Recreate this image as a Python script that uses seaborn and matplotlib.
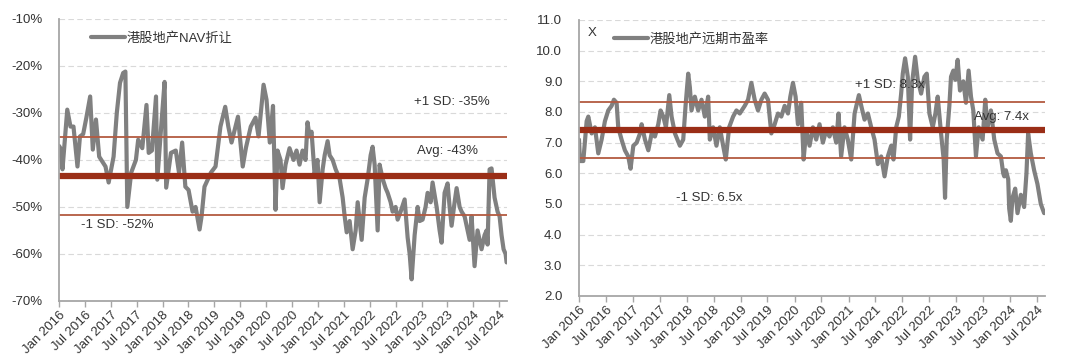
import pandas as pd
import matplotlib
matplotlib.use("Agg")
import matplotlib.pyplot as plt
import seaborn as sns

# time axis is in decimal years
nav_t = [2016.000, 2016.023, 2016.068, 2016.160, 2016.222, 2016.280, 2016.357, 2016.405, 2016.467, 2016.529,
         2016.602, 2016.653, 2016.714, 2016.776, 2016.898, 2016.959, 2017.052, 2017.114, 2017.176, 2017.237,
         2017.280, 2017.317, 2017.392, 2017.483, 2017.527, 2017.606, 2017.687, 2017.730, 2017.792, 2017.871,
         2017.896, 2017.977, 2018.037, 2018.068, 2018.160, 2018.253, 2018.315, 2018.376, 2018.438, 2018.500,
         2018.577, 2018.635, 2018.712, 2018.751, 2018.807, 2018.931, 2019.021, 2019.116, 2019.208, 2019.268,
         2019.330, 2019.454, 2019.546, 2019.608, 2019.701, 2019.793, 2019.851, 2019.948, 2020.006, 2020.069,
         2020.131, 2020.180, 2020.218, 2020.276, 2020.315, 2020.373, 2020.450, 2020.527, 2020.585, 2020.643,
         2020.701, 2020.759, 2020.797, 2020.836, 2020.875, 2020.933, 2020.990, 2021.029, 2021.087, 2021.126,
         2021.183, 2021.222, 2021.280, 2021.338, 2021.415, 2021.473, 2021.512, 2021.551, 2021.608, 2021.666,
         2021.724, 2021.763, 2021.801, 2021.840, 2021.898, 2021.956, 2022.014, 2022.052, 2022.091, 2022.149,
         2022.187, 2022.245, 2022.303, 2022.342, 2022.400, 2022.438, 2022.496, 2022.535, 2022.593, 2022.670,
         2022.728, 2022.767, 2022.805, 2022.863, 2022.921, 2022.959, 2023.017, 2023.075, 2023.114, 2023.172,
         2023.210, 2023.288, 2023.346, 2023.384, 2023.442, 2023.500, 2023.539, 2023.577, 2023.635, 2023.674,
         2023.732, 2023.770, 2023.828, 2023.867, 2023.925, 2023.963, 2024.021, 2024.079, 2024.118, 2024.156,
         2024.214, 2024.253, 2024.272, 2024.311, 2024.349, 2024.388, 2024.407, 2024.465, 2024.504, 2024.542,
         2024.581, 2024.620, 2024.639]
nav_v = [-37.0, -37.4, -42.0, -29.3, -32.9, -32.9, -41.4, -35.0, -34.5, -31.0,
         -26.5, -37.8, -31.4, -39.3, -41.4, -44.8, -39.3, -30.0, -23.6, -21.5,
         -21.2, -50.0, -42.7, -40.0, -35.7, -37.5, -28.3, -38.5, -38.0, -26.5,
         -44.2, -32.0, -23.4, -45.9, -38.5, -38.0, -42.7, -36.3, -45.7, -46.4,
         -51.0, -50.0, -54.8, -52.0, -45.7, -42.7, -41.4, -32.9, -28.7, -32.9,
         -36.3, -30.8, -41.4, -37.4, -32.9, -31.0, -35.0, -24.0, -27.2, -36.3,
         -28.5, -50.6, -38.0, -40.0, -46.0, -41.0, -37.5, -40.0, -38.0, -41.0,
         -38.0, -40.0, -32.0, -35.0, -34.0, -43.0, -40.0, -49.0, -42.0, -39.0,
         -36.0, -39.0, -40.0, -42.0, -44.0, -48.0, -52.0, -55.4, -53.0, -59.0,
         -55.0, -49.0, -53.0, -57.0, -48.0, -44.0, -39.0, -37.2, -41.0, -55.0,
         -41.0, -44.0, -46.0, -47.0, -49.0, -51.0, -50.0, -52.7, -51.0, -48.4,
         -56.5, -60.0, -65.4, -56.0, -50.0, -53.0, -52.7, -50.0, -47.0, -49.0,
         -44.8, -50.0, -55.0, -57.6, -47.0, -45.0, -50.0, -54.0, -49.0, -46.0,
         -50.0, -51.0, -52.0, -54.0, -57.0, -52.0, -62.6, -55.0, -57.0, -59.0,
         -56.0, -55.0, -58.0, -42.0, -41.8, -46.0, -48.0, -51.0, -52.0, -56.0,
         -59.0, -60.0, -61.8]

pe_t = [2016.000, 2016.019, 2016.080, 2016.142, 2016.173, 2016.235, 2016.296, 2016.358, 2016.420, 2016.481,
        2016.543, 2016.605, 2016.648, 2016.698, 2016.728, 2016.790, 2016.852, 2016.914, 2016.957, 2017.006,
        2017.068, 2017.130, 2017.160, 2017.222, 2017.284, 2017.346, 2017.407, 2017.469, 2017.512, 2017.562,
        2017.611, 2017.673, 2017.716, 2017.778, 2017.870, 2017.932, 2017.975, 2018.025, 2018.056, 2018.086,
        2018.148, 2018.210, 2018.272, 2018.333, 2018.395, 2018.426, 2018.488, 2018.549, 2018.611, 2018.673,
        2018.722, 2018.784, 2018.858, 2018.920, 2018.981, 2019.074, 2019.136, 2019.198, 2019.259, 2019.321,
        2019.383, 2019.444, 2019.506, 2019.568, 2019.630, 2019.691, 2019.753, 2019.815, 2019.877, 2019.920,
        2019.969, 2020.019, 2020.062, 2020.123, 2020.167, 2020.216, 2020.278, 2020.340, 2020.401, 2020.463,
        2020.525, 2020.586, 2020.648, 2020.710, 2020.772, 2020.815, 2020.864, 2020.926, 2020.988, 2021.049,
        2021.111, 2021.191, 2021.235, 2021.296, 2021.358, 2021.420, 2021.481, 2021.543, 2021.605, 2021.667,
        2021.728, 2021.790, 2021.833, 2021.883, 2021.932, 2021.975, 2022.006, 2022.049, 2022.099, 2022.142,
        2022.179, 2022.235, 2022.284, 2022.346, 2022.407, 2022.451, 2022.500, 2022.562, 2022.611, 2022.654,
        2022.716, 2022.765, 2022.790, 2022.821, 2022.870, 2022.901, 2022.944, 2022.981, 2023.025, 2023.068,
        2023.130, 2023.179, 2023.228, 2023.272, 2023.315, 2023.364, 2023.414, 2023.488, 2023.537, 2023.580,
        2023.642, 2023.704, 2023.765, 2023.827, 2023.870, 2023.889, 2023.920, 2023.963, 2023.981, 2024.012,
        2024.043, 2024.093, 2024.136, 2024.198, 2024.259, 2024.302, 2024.333, 2024.383, 2024.444, 2024.506,
        2024.568, 2024.630]
pe_v = [7.1, 6.4, 6.4, 7.7, 7.85, 7.3, 7.5, 6.65, 7.1, 7.7,
        8.05, 8.2, 8.4, 8.3, 7.5, 7.1, 6.75, 6.55, 6.15, 6.9,
        7.0, 7.3, 7.6, 7.1, 6.75, 7.3, 7.2, 7.6, 8.05, 7.85,
        7.5, 8.55, 7.85, 7.3, 6.9, 7.1, 8.2, 9.25, 8.8, 8.05,
        8.5, 8.05, 8.4, 7.85, 8.5, 7.1, 7.5, 6.9, 7.5, 6.9,
        6.45, 7.5, 7.85, 8.05, 7.95, 8.2, 8.4, 8.95, 8.4, 8.05,
        8.4, 8.6, 8.4, 7.3, 7.6, 7.95, 7.85, 8.2, 7.95, 8.5,
        8.95, 8.5, 7.6, 8.3, 6.45, 7.4, 6.9, 7.5, 7.1, 7.6,
        7.0, 7.4, 7.2, 7.5, 7.0, 7.95, 6.55, 7.5, 7.1, 6.45,
        7.95, 8.55, 8.2, 7.75, 7.95, 7.5, 7.1, 6.3, 6.55, 5.9,
        6.55, 6.9, 6.45, 7.5, 7.85, 8.6, 9.25, 9.75, 9.15, 7.1,
        8.95, 9.8, 9.05, 8.6, 9.15, 9.25, 7.95, 7.5, 7.95, 8.5,
        7.3, 6.45, 5.2, 7.1, 8.2, 9.15, 9.35, 9.05, 9.7, 8.7,
        9.0, 8.3, 9.35, 8.5, 8.05, 6.55, 7.5, 7.1, 8.4, 7.5,
        8.05, 7.1, 6.65, 6.55, 6.0, 5.9, 6.1, 5.8, 4.85, 4.45,
        5.2, 5.5, 4.7, 5.3, 4.9, 6.0, 7.3, 6.65, 6.1, 5.65,
        5.0, 4.7]

# mean and +/- 1 SD levels
nav_avg, nav_hi, nav_lo = -43.4, -35.1, -51.8
pe_avg, pe_hi, pe_lo = 7.42, 8.33, 6.49

tick_dates = pd.date_range("2016-01-01", "2024-07-01", freq="6MS")


def to_date(t):
    y = int(t)
    return pd.Timestamp(y, 1, 1) + pd.Timedelta(days=(t - y) * 365.25)


nav_df = pd.DataFrame({"date": [to_date(t) for t in nav_t], "v": nav_v})
pe_df = pd.DataFrame({"date": [to_date(t) for t in pe_t], "v": pe_v})

sns.set_theme(style="white")
plt.rcParams["font.family"] = ["Liberation Sans", "Noto Sans CJK SC"]

TXT = "#333333"
THICK = "#9A2E17"
THIN = "#B35A40"
GREY = "#808080"

fig = plt.figure(figsize=(10.8, 3.57), dpi=100)
ax1 = fig.add_axes([0.0546, 0.157, 0.4148, 0.790])
ax2 = fig.add_axes([0.5361, 0.171, 0.4315, 0.773])


def style_axis(ax, ylim, yticks, ylabels):
    ax.set_ylim(*ylim)
    ax.set_yticks(yticks)
    ax.set_yticklabels(ylabels, fontsize=9.5, color=TXT)
    ax.set_xlim(pd.Timestamp("2016-01-01"), pd.Timestamp("2024-08-24"))
    ax.set_xticks(tick_dates)
    ax.set_xticklabels([d.strftime("%b %Y") for d in tick_dates], rotation=45,
                       ha="right", rotation_mode="anchor", fontsize=9.5, color=TXT)
    ax.grid(axis="y", color="#d9d9d9", linestyle=(0, (5, 3)), linewidth=0.8)
    ax.set_axisbelow(True)
    for s in ["top", "right"]:
        ax.spines[s].set_visible(False)
    for s in ["left", "bottom"]:
        ax.spines[s].set_color("#a6a6a6")
        ax.spines[s].set_linewidth(1.3)
    ax.tick_params(axis="x", bottom=True, length=4, width=1, color="#a6a6a6", pad=2)
    ax.tick_params(axis="y", left=False, pad=6)
    ax.set_xlabel("")
    ax.set_ylabel("")


# left: NAV discount
sns.lineplot(data=nav_df, x="date", y="v", ax=ax1, color=GREY, linewidth=3.0,
             label="港股地产NAV折让")
ax1.axhline(nav_hi, color=THIN, linewidth=1.3)
ax1.axhline(nav_lo, color=THIN, linewidth=1.3)
ax1.axhline(nav_avg, color=THICK, linewidth=4.5)
style_axis(ax1, (-70, -10), list(range(-70, -9, 10)),
           [f"{v}%" for v in range(-70, -9, 10)])
ax1.text(to_date(2022.86), -27.6, "+1 SD: -35%", fontsize=9.5, color=TXT, va="center")
ax1.text(to_date(2022.90), -38.2, "Avg: -43%", fontsize=9.5, color=TXT, va="center")
ax1.text(to_date(2016.43), -53.8, "-1 SD: -52%", fontsize=9.5, color=TXT, va="center")
ax1.legend(loc="upper left", bbox_to_anchor=(0.045, 0.995), frameon=False, fontsize=9.5,
           handlelength=2.6, handletextpad=0.1, labelcolor=TXT)

# right: forward PE
sns.lineplot(data=pe_df, x="date", y="v", ax=ax2, color=GREY, linewidth=3.0,
             label="港股地产远期市盈率")
ax2.axhline(pe_hi, color=THIN, linewidth=1.3)
ax2.axhline(pe_lo, color=THIN, linewidth=1.3)
ax2.axhline(pe_avg, color=THICK, linewidth=4.5)
style_axis(ax2, (2, 11), [2 + i for i in range(10)],
           [f"{2 + i:.1f}" for i in range(10)])
ax2.text(to_date(2021.11), 8.88, "+1 SD: 8.3x", fontsize=9.5, color=TXT, va="center")
ax2.text(to_date(2023.33), 7.84, "Avg: 7.4x", fontsize=9.5, color=TXT, va="center")
ax2.text(to_date(2017.80), 5.2, "-1 SD: 6.5x", fontsize=9.5, color=TXT, va="center")
ax2.text(to_date(2016.17), 10.58, "X", fontsize=9.5, color=TXT, va="center")
ax2.legend(loc="upper left", bbox_to_anchor=(0.05, 0.995), frameon=False, fontsize=9.5,
           handlelength=2.6, handletextpad=0.1, labelcolor=TXT)

fig.savefig("out.png", dpi=100)
